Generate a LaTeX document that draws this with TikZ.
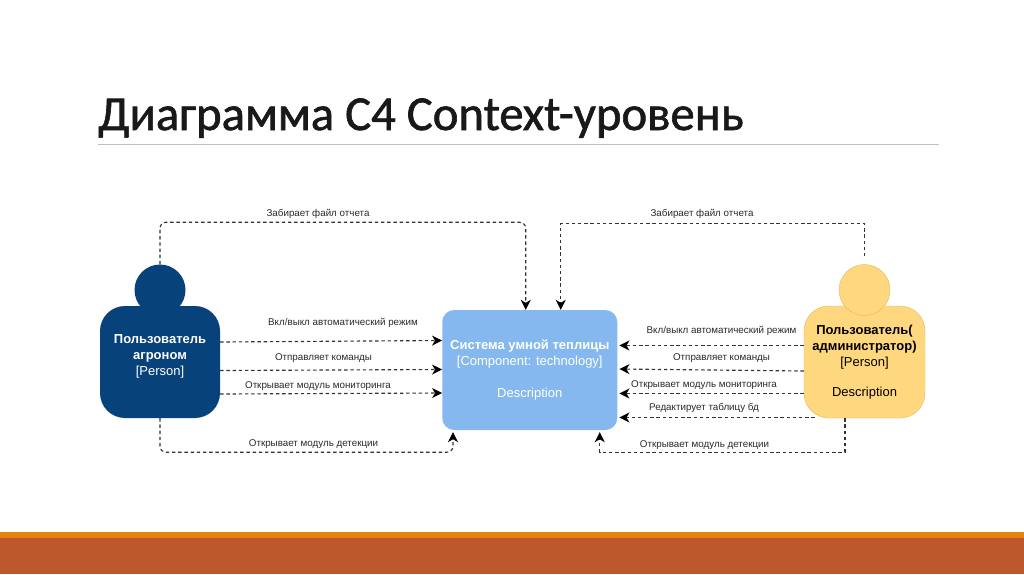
\documentclass[tikz,border=0pt]{standalone}
\usepackage{fontspec}
\setmainfont{Liberation Sans}
\newfontfamily\titlefont[FakeBold=1.3]{Carlito}
\usetikzlibrary{arrows.meta}
\definecolor{darkblue}{HTML}{08427B}
\definecolor{sysblue}{HTML}{85B8EE}
\definecolor{persony}{HTML}{FFD77F}
\definecolor{persons}{HTML}{DDB95F}
\definecolor{rust}{HTML}{BD582C}
\definecolor{bandor}{HTML}{E48312}
\definecolor{labelgray}{HTML}{2A2A2A}
\tikzset{
  body/.style={rectangle,rounded corners=25pt,minimum width=120pt,minimum height=112pt,inner sep=0pt,align=center,font=\fontsize{13}{16}\selectfont},
  head/.style={circle,minimum size=51pt,inner sep=0pt},
  link/.style={dash pattern=on 3.4pt off 2.8pt,line width=1.15pt,color=black!80,-{Stealth[length=10pt,width=10pt,inset=3pt,color=black]}},
  bendlink/.style={link,rounded corners=6pt},
  lab/.style={font=\fontsize{9.8}{11}\selectfont,text=labelgray,inner sep=0pt},
}
\begin{document}
\begin{tikzpicture}[x=1pt,y=-1pt]
\useasboundingbox (0,0) rectangle (1024,574);
\fill[white] (0,0) rectangle (1024,574);
% title
\node[anchor=base west,inner sep=0pt,font=\titlefont\fontsize{48.7}{54}\selectfont,text=black!90] (title) at (98,130) {Диаграмма C4 Context-уровень};
\draw[black!25,line width=0.8pt] (98,144.5) -- (939,144.5);
% band
\fill[bandor] (0,532) rectangle (1024,538);
\fill[rust] (0,538) rectangle (1024,574);
% left person
\node[body,fill=darkblue,text=white] (lb) at (160,362) {\textbf{Пользователь}\\\textbf{агроном}\\{}[Person]\\[-3pt]\mbox{}};
\node[head,fill=darkblue] (lh) at (160,290) {};
% system
\node[rectangle,rounded corners=12pt,fill=sysblue,minimum width=175pt,minimum height=120pt,inner sep=0pt,align=center,text=white,font=\fontsize{13}{16}\selectfont] (sys) at (529.75,370) {\textbf{Система умной теплицы}\\{}[Component: technology]\\[16pt]Description};
% right person
\node[body,fill=persony,draw=persons,text=black,minimum width=121pt] (rb) at (864.5,362) {\textbf{Пользователь(}\\\textbf{администратор)}\\{}[Person]\\[14pt]Description};
\node[head,fill=persony,draw=persons] (rh) at (864.5,290) {};
% top connectors
\draw[bendlink] (lh.north) -- ++(0,-42) -| ([xshift=-4pt]sys.north);
\draw[link] ([yshift=8pt]rh.north) -- ++(0,-33) -| ([xshift=31pt]sys.north);
% left horizontal connectors
\draw[link] ([yshift=20pt]lb.east) -- ([yshift=29.5pt]sys.west);
\draw[link] ([yshift=-8.5pt]lb.east) -- ([yshift=0.5pt]sys.west);
\draw[link] ([yshift=-32pt]lb.east) -- ([yshift=-23pt]sys.west);
% right horizontal connectors
\draw[link] ([yshift=16.5pt]rb.west) -- ([xshift=2pt,yshift=24.5pt]sys.east);
\draw[link] ([yshift=-9pt]rb.west) -- ([xshift=2pt,yshift=1pt]sys.east);
\draw[link] ([yshift=-31.5pt]rb.west) -- ([xshift=2pt,yshift=-23.5pt]sys.east);
\draw[link] ([xshift=11pt,yshift=-55.5pt]rb.west) -- ([xshift=2pt,yshift=-47.5pt]sys.east);
% bottom connectors
\draw[bendlink] (lb.south) -- ++(0,34) -| ([xshift=-76.75pt,yshift=-2pt]sys.south);
\draw[link] ([xshift=-19.5pt]rb.south) -- ++(0,34) -| ([xshift=70pt,yshift=-2pt]sys.south);
% labels
\node[lab] (l1) at (318,214) {Забирает файл отчета};
\node[lab] (l2) at (702,214) {Забирает файл отчета};
\node[lab] (l3) at (343,323) {Вкл/выкл автоматический режим};
\node[lab] (l4) at (323.5,358) {Отправляет команды};
\node[lab] (l5) at (318,386) {Открывает модуль мониторинга};
\node[lab] (l6) at (313.5,444) {Открывает модуль детекции};
\node[lab] (r3) at (721.5,331) {Вкл/выкл автоматический режим};
\node[lab] (r4) at (721.5,358.5) {Отправляет команды};
\node[lab] (r5) at (704,385) {Открывает модуль мониторинга};
\node[lab] (r6) at (704,408) {Редактирует таблицу бд};
\node[lab] (r7) at (704.5,445) {Открывает модуль детекции};
\end{tikzpicture}
\end{document}
